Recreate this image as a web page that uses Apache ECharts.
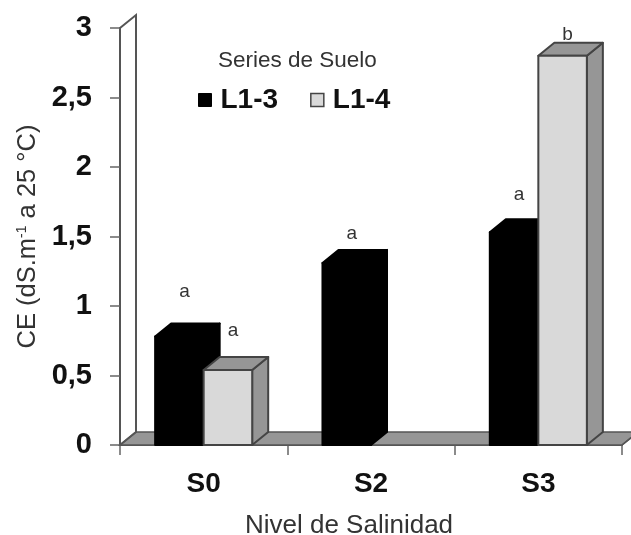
<!DOCTYPE html>
<html><head><meta charset="utf-8">
<style>html,body{margin:0;padding:0;background:#fff}#c{width:631px;height:535px}</style>
<script src="https://cdn.jsdelivr.net/npm/echarts@6/dist/echarts.min.js"></script>
</head><body><div id="c"></div>
<script>
const categories = ['S0', 'S2', 'S3'];
const seriesNames = ['L1-3', 'L1-4'];
const valuesL13 = [0.78, 1.31, 1.53];
const valuesL14 = [0.54, null, 2.8];
const letterL13 = ['a', 'a', 'a'];
const letterL14 = ['a', '', 'b'];
const letterHeightL13 = [1.10, 1.52, 1.80];
const letterHeightL14 = [0.82, null, 2.95];

const FONT = '"Liberation Sans", Arial, sans-serif';
const DX = 16, DY = -13;
const BAR_FRAC = 0.29;

function wall(params, api) {
  const cs = params.coordSys;
  const x0 = cs.x, x1 = cs.x + cs.width, yb = cs.y + cs.height, yt = cs.y;
  const ln = {stroke: '#555', lineWidth: 2, fill: null};
  return {type: 'group', children: [
    {type: 'polygon', shape: {points: [[x0, yb], [x0 + DX, yb + DY], [x1 + DX, yb + DY], [x1, yb]]},
      style: {fill: '#969696', stroke: '#555', lineWidth: 1.5}},
    {type: 'polyline', shape: {points: [[x0, yt], [x0 + DX, yt + DY], [x0 + DX, yb + DY], [x0, yb]]}, style: ln},
    {type: 'line', shape: {x1: x1, y1: yb, x2: x1 + 10, y2: yb - 8}, style: {stroke: '#555', lineWidth: 1.5}}
  ]};
}

function bar3d(dir, front, side, stroke) {
  return function (params, api) {
    const v = api.value(1);
    if (v == null || isNaN(v)) return null;
    const band = api.size([1, 0])[0];
    const w = band * BAR_FRAC;
    const c = api.coord([api.value(0), v]);
    const b = api.coord([api.value(0), 0]);
    const l = dir < 0 ? c[0] - w : c[0];
    const r = l + w, t = c[1], y0 = b[1];
    const st = {stroke: stroke, lineWidth: 2, lineJoin: 'round'};
    return {type: 'group', children: [
      {type: 'polygon', shape: {points: [[r, t], [r + DX, t + DY], [r + DX, y0 + DY], [r, y0]]}, style: Object.assign({fill: side}, st)},
      {type: 'polygon', shape: {points: [[l, t], [l + DX, t + DY], [r + DX, t + DY], [r, t]]}, style: Object.assign({fill: side}, st)},
      {type: 'rect', shape: {x: l, y: t, width: w, height: y0 - t}, style: Object.assign({fill: front}, st)}
    ]};
  };
}

function letters(params, api) {
  const v = api.value(1);
  if (v == null || isNaN(v)) return null;
  const band = api.size([1, 0])[0];
  const p = api.coord([api.value(0), v]);
  return {type: 'text', style: {
    x: p[0] + api.value(2) * band, y: p[1],
    text: api.value(3), fill: '#333', font: '19px ' + FONT, align: 'center', verticalAlign: 'middle'
  }};
}

function letterData(hs, ls, off) {
  return categories.map((c, i) => [i, hs[i], off, ls[i]]).filter(d => d[1] != null);
}

const chart = echarts.init(document.getElementById('c'), null, {renderer: 'canvas'});
chart.setOption({
  animation: false,
  backgroundColor: '#fff',
  grid: {left: 120, top: 28, width: 502, height: 417, containLabel: false, outerBoundsMode: 'none'},
  title: {text: 'Series de Suelo', left: 218, top: 49, textStyle: {fontFamily: FONT, fontWeight: 'normal', fontSize: 22.5, color: '#333'}, padding: 0},
  legend: {
    left: 198, top: 86, padding: 0, icon: 'rect', itemWidth: 13, itemHeight: 13, itemGap: 32,
    textStyle: {fontFamily: FONT, fontSize: 28, fontWeight: 'bold', color: '#111', padding: [0, 0, 0, 4]},
    data: [
      {name: seriesNames[0], itemStyle: {color: '#000', borderColor: '#000', borderWidth: 1}},
      {name: seriesNames[1], itemStyle: {color: '#d9d9d9', borderColor: '#444', borderWidth: 1.5}}
    ]
  },
  xAxis: {
    type: 'category', data: categories,
    axisLine: {lineStyle: {color: '#555', width: 2}},
    axisTick: {show: true, alignWithLabel: false, length: 10, lineStyle: {color: '#666', width: 1.5}},
    axisLabel: {fontFamily: FONT, fontSize: 28, fontWeight: 'bold', color: '#111', margin: 25, interval: 0},
    name: 'Nivel de Salinidad', nameLocation: 'middle', nameGap: 68,
    nameTextStyle: {fontFamily: FONT, fontSize: 26, color: '#333', padding: [0, 44, 0, 0]}
  },
  yAxis: {
    type: 'value', min: 0, max: 3, interval: 0.5,
    splitLine: {show: false},
    axisLine: {show: true, lineStyle: {color: '#555', width: 2}},
    axisTick: {show: true, length: 10, lineStyle: {color: '#666', width: 1.5}},
    axisLabel: {fontFamily: FONT, fontSize: 29, fontWeight: 'bold', color: '#111', margin: 28,
      formatter: v => String(v).replace('.', ',')},
    name: '{a|CE (dS.m}{b|-1}{a| a 25 °C)}', nameLocation: 'middle', nameRotate: 90, nameGap: 78,
    nameTextStyle: {rich: {
      a: {fontFamily: FONT, fontSize: 25.5, color: '#333'},
      b: {fontFamily: FONT, fontSize: 14, color: '#333', verticalAlign: 'top', lineHeight: 25}
    }}
  },
  series: [
    {type: 'custom', name: '_wall', silent: true, z: 1, clip: false, renderItem: wall, data: [[0, 0]], encode: {x: 0, y: 1}},
    {type: 'custom', name: seriesNames[0], z: 2, clip: false, itemStyle: {color: '#000'},
      renderItem: bar3d(-1, '#000', '#000', '#000'),
      data: categories.map((c, i) => [i, valuesL13[i]]), encode: {x: 0, y: 1}},
    {type: 'custom', name: seriesNames[1], z: 3, clip: false, itemStyle: {color: '#d9d9d9'},
      renderItem: bar3d(1, '#d9d9d9', '#969696', '#444'),
      data: categories.map((c, i) => [i, valuesL14[i]]), encode: {x: 0, y: 1}},
    {type: 'custom', name: '_a', z: 4, clip: false, renderItem: letters, silent: true,
      data: letterData(letterHeightL13, letterL13, -0.115), encode: {x: 0, y: 1}},
    {type: 'custom', name: '_b', z: 4, clip: false, renderItem: letters, silent: true,
      data: letterData(letterHeightL14, letterL14, 0.175), encode: {x: 0, y: 1}}
  ]
});
</script></body></html>
